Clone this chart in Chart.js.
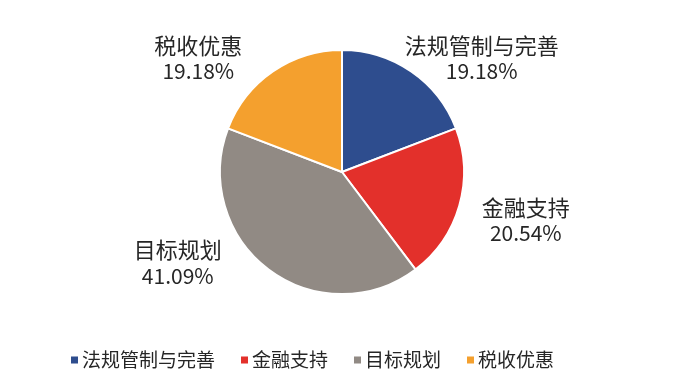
<!DOCTYPE html>
<html>
<head>
<meta charset="utf-8">
<script src="https://cdn.jsdelivr.net/npm/chart.js@4.4.1/dist/chart.umd.min.js"></script>
<style>
html,body{margin:0;padding:0;background:#fff;}
#wrap{width:700px;height:379px;position:relative;}
</style>
</head>
<body>
<div id="wrap"><canvas id="c" width="700" height="379"></canvas></div>
<script>
const categories = ['法规管制与完善', '金融支持', '目标规划', '税收优惠'];
const shares = [19.18, 20.54, 41.09, 19.18];
const valueLabels = ['19.18%', '20.54%', '41.09%', '19.18%'];
const sliceColors = ['#2E4D8E', '#E3302B', '#918A84', '#F4A02E'];

// label placement nudges (styling, relative to a radial anchor)
const labelNudges = [[49, 18], [30, 4], [-68, -37], [-53, 18]];
const FONT = '"Noto Sans CJK SC", "Noto Sans", sans-serif';
const TEXT_COLOR = '#262626';

const labelPlugin = {
  id: 'sliceLabels',
  afterDatasetsDraw(chart) {
    const ctx = chart.ctx;
    const meta = chart.getDatasetMeta(0);
    ctx.save();
    ctx.fillStyle = TEXT_COLOR;
    ctx.textAlign = 'center';
    ctx.textBaseline = 'middle';
    meta.data.forEach((arc, i) => {
      const p = arc.getProps(['x', 'y', 'startAngle', 'endAngle'], true);
      const mid = (p.startAngle + p.endAngle) / 2;
      const d = 160;
      const x = p.x + Math.cos(mid) * d + labelNudges[i][0];
      const y = p.y + Math.sin(mid) * d + labelNudges[i][1];
      ctx.font = '22px ' + FONT;
      ctx.fillText(categories[i], x, y - 13);
      ctx.font = '21px ' + FONT;
      ctx.fillText(valueLabels[i], x, y + 13);
    });
    ctx.restore();
  }
};

const legendPlugin = {
  id: 'bottomLegend',
  afterDraw(chart) {
    const ctx = chart.ctx;
    ctx.save();
    ctx.font = '19px ' + FONT;
    ctx.textBaseline = 'middle';
    ctx.textAlign = 'left';
    const box = 7, gapBoxText = 4, gapItems = 26;
    const widths = categories.map(t => ctx.measureText(t).width);
    let x = 71;
    const y = 360;
    categories.forEach((t, i) => {
      ctx.fillStyle = sliceColors[i];
      ctx.fillRect(x, y - box / 2, box, box);
      ctx.fillStyle = TEXT_COLOR;
      ctx.fillText(t, x + box + gapBoxText, y);
      x += box + gapBoxText + widths[i] + gapItems;
    });
    ctx.restore();
  }
};

new Chart(document.getElementById('c'), {
  type: 'pie',
  data: {
    labels: categories,
    datasets: [{
      data: shares,
      backgroundColor: sliceColors,
      borderColor: '#ffffff',
      borderWidth: 2,
      hoverOffset: 0,
      radius: 122
    }]
  },
  options: {
    responsive: false,
    animation: false,
    layout: { padding: { top: 50, bottom: 85, left: 0, right: 16 } },
    plugins: {
      legend: { display: false },
      tooltip: { enabled: false }
    }
  },
  plugins: [labelPlugin, legendPlugin]
});
</script>
</body>
</html>
